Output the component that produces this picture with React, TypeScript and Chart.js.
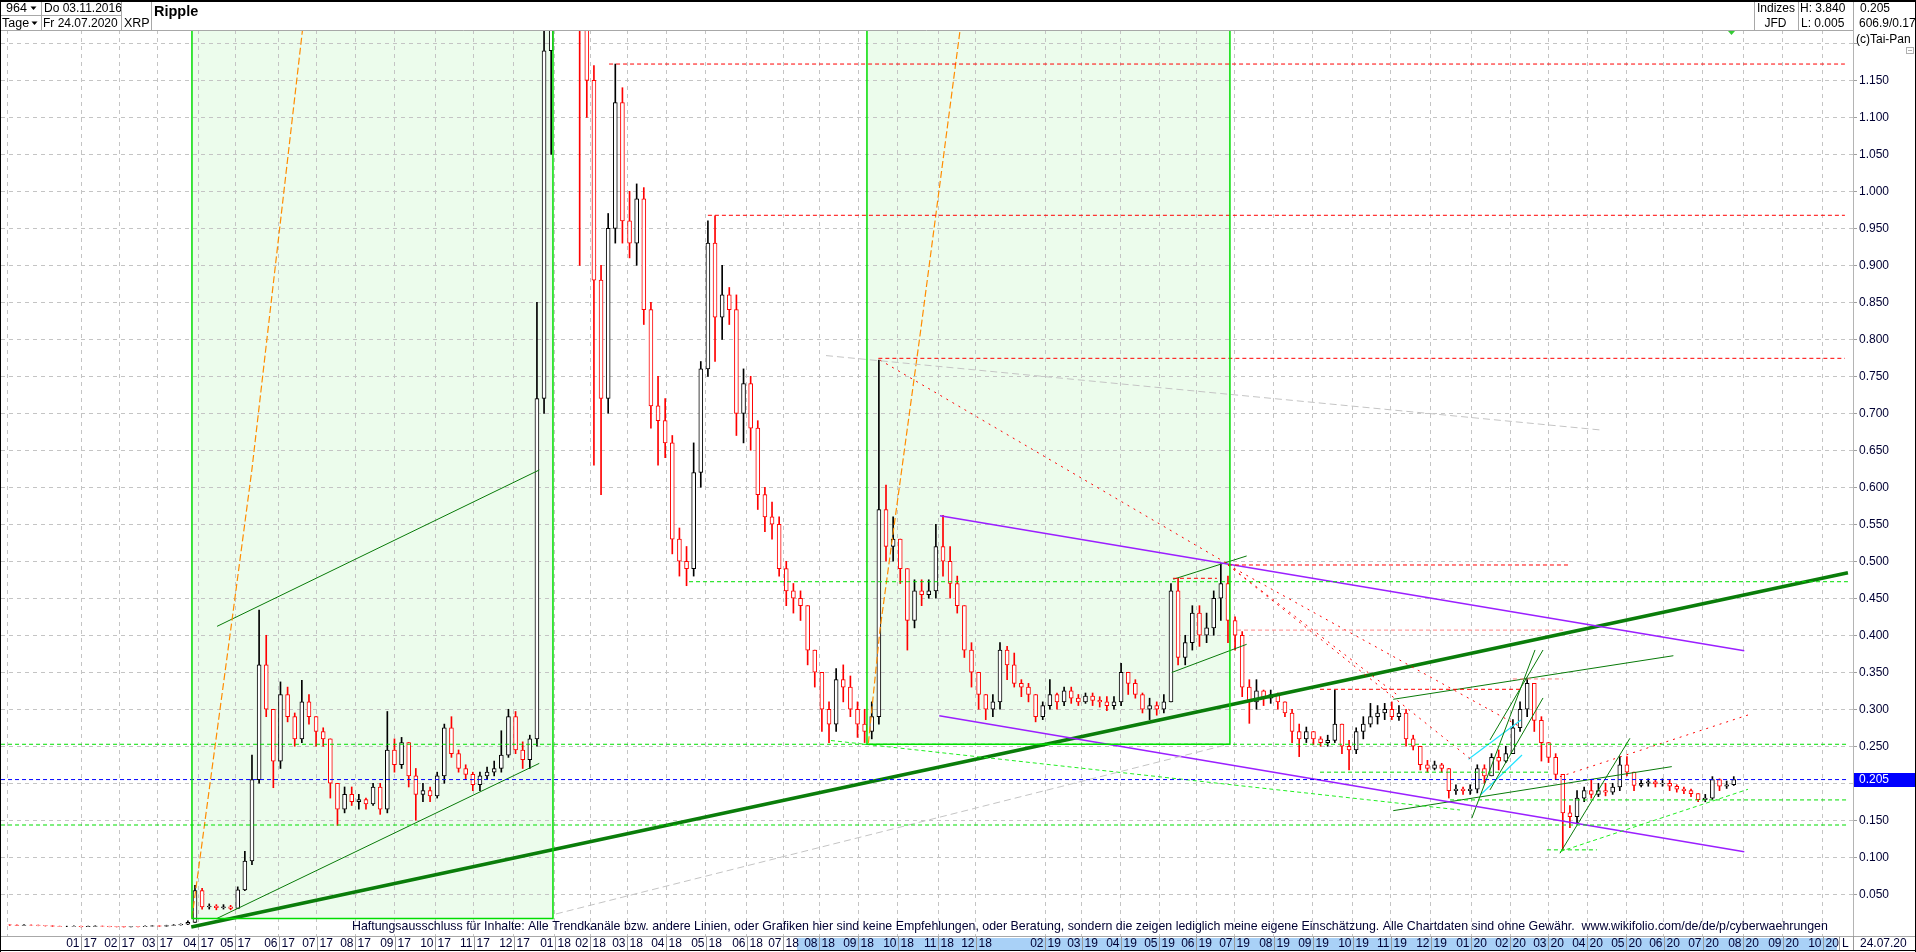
import React, { useEffect, useRef } from "react";
import { Chart, registerables } from "chart.js";

Chart.register(...registerables);

const FONT = '"Liberation Sans", Arial, Helvetica, sans-serif';
const TEXT = "#000033";

// ---------- price data (one candle = 4 trading days, open = previous close) ----------
const BAR_STEP = 4;
const FIRST_OPEN = 0.0088;

const close2017 = [0.0085,0.0080,0.0085,0.0082,0.0078,0.0075,0.0068,0.0065,0.0065,0.0068,
  0.0063,0.0066,0.0070,0.0068,0.0063,0.0062,0.0060,0.0064,0.0063,0.0068,
  0.0072,0.0070,0.0078,0.0085,0.0095,
  0.012,0.055,0.033,0.034,0.032, 0.033,0.031,0.056,0.095,0.205,
  0.360,0.300,0.230,0.320,0.290, 0.260,0.310,0.290,0.270,0.260,
  0.200,0.165,0.185,0.175,0.178, 0.172,0.195,0.165,0.245,0.225,
  0.255,0.210,0.185,0.190,0.183, 0.210,0.275,0.240,0.220,0.212,
  0.198,0.210,0.215,0.220,0.238, 0.290,0.245,0.232,0.260,0.720,
  1.190,1.500];
const high2017 = [0.0092,0.0088,0.0090,0.0088,0.0084,0.0080,0.0076,0.0070,0.0069,0.0072,
  0.0069,0.0070,0.0074,0.0072,0.0068,0.0066,0.0064,0.0067,0.0066,0.0072,
  0.0076,0.0075,0.0082,0.0090,0.0100,
  0.014,0.062,0.058,0.037,0.036, 0.036,0.035,0.060,0.108,0.238,
  0.434,0.400,0.300,0.337,0.330, 0.295,0.339,0.320,0.290,0.275,
  0.260,0.200,0.195,0.195,0.185, 0.180,0.200,0.200,0.297,0.260,
  0.262,0.255,0.220,0.200,0.195, 0.215,0.280,0.290,0.245,0.225,
  0.215,0.215,0.222,0.230,0.271, 0.300,0.297,0.256,0.265,0.850,
  1.250,2.000];
const low2017 = [0.0078,0.0076,0.0078,0.0079,0.0074,0.0070,0.0065,0.0062,0.0062,0.0064,
  0.0060,0.0062,0.0065,0.0065,0.0060,0.0058,0.0057,0.0059,0.0060,0.0062,
  0.0067,0.0066,0.0069,0.0077,0.0083,
  0.009,0.012,0.030,0.030,0.029, 0.030,0.029,0.031,0.055,0.090,
  0.200,0.290,0.194,0.220,0.283, 0.250,0.255,0.280,0.250,0.250,
  0.180,0.143,0.160,0.170,0.165, 0.165,0.170,0.158,0.160,0.215,
  0.220,0.195,0.150,0.175,0.175, 0.180,0.200,0.235,0.215,0.205,
  0.190,0.190,0.205,0.210,0.215, 0.235,0.240,0.220,0.220,0.250,
  0.700,1.050];

const close2018 = [2.20,3.20,1.60,1.45,1.15, 0.88,0.72,0.95,1.12,0.96,
  0.93,0.99,0.84,0.71,0.69, 0.66,0.53,0.50,0.49,0.62,
  0.76,0.93,0.83,0.86,0.84, 0.70,0.74,0.68,0.59,0.56,
  0.55,0.49,0.46,0.45,0.44, 0.38,0.35,0.30,0.28,0.34,
  0.33,0.30,0.28,0.27,0.29, 0.57,0.52,0.53,0.49,0.42,
  0.46,0.455,0.46,0.52,0.50, 0.47,0.44,0.38,0.35,0.32,
  0.30,0.31,0.38,0.36];
const high2018 = [2.60,3.84,3.50,1.70,1.60, 1.17,0.90,0.97,1.172,1.14,
  1.00,1.01,1.005,0.85,0.75, 0.72,0.67,0.545,0.52,0.66,
  0.77,0.96,0.967,0.90,0.87, 0.86,0.76,0.75,0.69,0.60,
  0.58,0.56,0.50,0.47,0.46, 0.44,0.38,0.35,0.31,0.355,
  0.36,0.345,0.31,0.30,0.31, 0.772,0.603,0.56,0.53,0.49,
  0.475,0.475,0.475,0.55,0.562, 0.52,0.48,0.44,0.39,0.35,
  0.32,0.32,0.39,0.385];
const low2018 = [1.45,2.20,1.50,0.90,1.10, 0.63,0.59,0.70,0.93,0.93,
  0.91,0.90,0.82,0.68,0.63, 0.64,0.51,0.48,0.467,0.48,
  0.60,0.75,0.77,0.80,0.82, 0.67,0.66,0.65,0.57,0.54,
  0.53,0.48,0.44,0.43,0.42, 0.36,0.33,0.27,0.255,0.27,
  0.31,0.29,0.262,0.255,0.26, 0.28,0.50,0.50,0.47,0.38,
  0.41,0.44,0.45,0.45,0.48, 0.45,0.43,0.37,0.33,0.30,
  0.286,0.29,0.30,0.34];

const close2019 = [0.335,0.33,0.32,0.29,0.305, 0.32,0.31,0.325,0.315,0.31,
  0.318,0.312,0.31,0.305,0.31, 0.35,0.335,0.32,0.30,0.305,
  0.30,0.31,0.46,0.37,0.39, 0.43,0.40,0.41,0.45,0.47,
  0.42,0.40,0.33,0.31,0.325, 0.315,0.32,0.31,0.295,0.27,
  0.26,0.27,0.26,0.255,0.258, 0.28,0.25,0.245,0.27,0.28,
  0.29,0.295,0.30,0.29,0.295, 0.26,0.25,0.225,0.22,0.225,
  0.22,0.19,0.192,0.19];
const high2019 = [0.376,0.34,0.335,0.32,0.31, 0.34,0.322,0.33,0.33,0.32,
  0.322,0.322,0.317,0.317,0.317, 0.362,0.35,0.34,0.322,0.315,
  0.31,0.32,0.47,0.477,0.40, 0.44,0.44,0.43,0.46,0.497,
  0.48,0.425,0.405,0.34,0.34, 0.326,0.326,0.322,0.31,0.30,
  0.28,0.276,0.27,0.263,0.265, 0.326,0.28,0.258,0.275,0.29,
  0.308,0.305,0.308,0.31,0.305, 0.30,0.265,0.25,0.231,0.23,
  0.227,0.22,0.198,0.195];
const low2019 = [0.33,0.317,0.31,0.283,0.286, 0.30,0.30,0.305,0.308,0.305,
  0.308,0.305,0.303,0.298,0.30, 0.305,0.32,0.315,0.295,0.286,
  0.292,0.295,0.31,0.36,0.36, 0.38,0.385,0.39,0.40,0.42,
  0.39,0.38,0.317,0.281,0.30, 0.305,0.308,0.30,0.29,0.255,
  0.236,0.255,0.252,0.25,0.25, 0.255,0.24,0.218,0.24,0.26,
  0.276,0.28,0.286,0.286,0.285, 0.25,0.245,0.218,0.215,0.218,
  0.215,0.18,0.185,0.185];

const close2020 = [0.192,0.22,0.21,0.235,0.23, 0.24,0.275,0.30,0.335,0.285,
  0.255,0.235,0.212,0.16,0.155, 0.18,0.19,0.185,0.19,0.188,
  0.195,0.225,0.215,0.197,0.20, 0.202,0.199,0.20,0.196,0.192,
  0.19,0.186,0.178,0.18,0.205, 0.196,0.198,0.205];
const high2020 = [0.198,0.225,0.225,0.24,0.245, 0.25,0.286,0.31,0.342,0.335,
  0.29,0.255,0.24,0.212,0.17, 0.19,0.195,0.205,0.20,0.20,
  0.20,0.236,0.236,0.215,0.205, 0.206,0.205,0.206,0.205,0.198,
  0.195,0.192,0.186,0.185,0.209, 0.206,0.203,0.209];
const low2020 = [0.185,0.187,0.20,0.21,0.218, 0.228,0.24,0.27,0.29,0.27,
  0.23,0.228,0.205,0.11,0.14, 0.145,0.175,0.18,0.182,0.183,
  0.185,0.19,0.21,0.19,0.195, 0.196,0.195,0.196,0.19,0.188,
  0.186,0.182,0.175,0.175,0.178, 0.19,0.193,0.197];

// ---------- axes ----------
const X_MIN = -2.92;
const X_MAX = 1036.95;
const Y_MIN = -0.0064;
const Y_MAX = 1.218;

const gridStart = 0.6;
const monthTicks = [42.0,63.6,84.9,107.7,128.7,152.9,174.5,196.1,218.3,240.8,262.4,285.1,
  307.9,327.8,348.8,370.7,392.9,415.9,436.2,456.4,478.3,500.7,523.2,544.5,
  583.3,604.0,625.9,647.3,668.1,689.4,711.8,733.7,756.2,777.5,800.0,
  822.5,844.4,865.7,887.6,909.5,930.8,952.7,975.2,997.6,1020.1];
const monthLabels = ["01 17","02 17","03 17","04 17","05 17","06 17","07 17","08 17","09 17","10 17","11 17","12 17",
  "01 18","02 18","03 18","04 18","05 18","06 18","07 18","08 18","09 18","10 18","11 18","12 18",
  "02 19","03 19","04 19","05 19","06 19","07 19","08 19","09 19","10 19","11 19","12 19",
  "01 20","02 20","03 20","04 20","05 20","06 20","07 20","08 20","09 20","10 20"];
const yGridValues = [0.05,0.1,0.15,0.2,0.25,0.3,0.35,0.4,0.45,0.5,0.55,0.6,0.65,0.7,0.75,0.8,0.85,0.9,0.95,1.0,1.05,1.1,1.15,1.2];
const yLabelMax = 1.15;
const LAST_PRICE = 0.205;
const HIGHLIGHT_FROM = 444.0;
const HIGHLIGHT_TO = 1028.0;

// ---------- drawings ----------
const greenBoxes = [[104.3, 307.0, 0.0172], [483.3, 687.1, 0.2527]];
const orangeRay1 = [[104.3,0.018],[126.8,0.4207],[138.0,0.6247],[168.3,1.2585]];
const orangeRay2 = [[484.1,0.2541],[490.6,0.4072],[502.8,0.6234],[513.5,0.8126],[537.8,1.2585]];
const mainSupport = [[103.9,0.0058],[1034.1,0.4846]];
const violetRays = [[[524.3,0.5616],[975.9,0.3792]], [[523.9,0.2913],[975.9,0.1076]]];
const thinGreenRays = [
  [[118.4,0.0174],[299.3,0.2269]],
  [[118.4,0.4121],[299.3,0.6234]],
  [[655.3,0.4757],[696.5,0.5072]],
  [[654.4,0.3497],[696.5,0.3878]],
  [[778.8,0.3135],[936.1,0.3724]],
  [[778.8,0.1630],[935.2,0.2225]],
  [[822.9,0.1527],[858.4,0.3802]],
  [[833.1,0.2585],[862.9,0.3801]],
  [[833.1,0.1910],[862.9,0.3153]],
  [[872.4,0.1054],[911.7,0.2608]],
];
const cyanRays = [[[821.0,0.2324],[850.5,0.2856]], [[827.7,0.1842],[851.1,0.2382]]];
// [level, from, to]
const redLevels = [[1.172,338.5,1032.4],[0.9676,394.0,1032.4],[0.7743,489.7,1032.4],[0.495,686.0,878.0],[0.477,655.1,679.8],[0.327,737.7,851.1]];
const pinkLevels = [[0.407,691.1,875.2],[0.341,846.0,874.1]];
const greenLevels = [[0.4724,383.4,1034.1],[0.2527,-2.9,1034.1],[0.1436,-2.9,1034.1],[0.1775,810.7,1034.1],[0.215,737.7,866.8],[0.110,865.1,893.2]];
const blueLevels = [[0.205,-2.9,1034.1]];
const redDotRays = [
  [[490.6,0.7720],[685.3,0.4973]],
  [[686.0,0.4950],[822.9,0.2315]],
  [[686.0,0.4950],[850.0,0.2765]],
  [[686.0,0.4950],[782.6,0.3166]],
  [[872.4,0.2089],[978.0,0.2923]],
];
const grayRays = [[[460.3,0.7780],[895.5,0.6774]], [[308.7,0.0234],[684.9,0.2518]]];
const greenDashRays = [[[463.1,0.2578],[816.3,0.1639]], [[872.4,0.1076],[978.0,0.1919]]];

const DISCLAIMER = "Haftungsausschluss für Inhalte: Alle Trendkanäle bzw. andere Linien, oder Grafiken hier sind keine Empfehlungen, oder Beratung, sondern die zeigen lediglich meine eigene Einschätzung. Alle Chartdaten sind ohne Gewähr.  www.wikifolio.com/de/de/p/cyberwaehrungen";
const DISCLAIMER_LEFT = 352;
const DISCLAIMER_WIDTH = 1477;

// ---------- helpers ----------
function lineSet(pts: number[][], color: string, width: number, dash: number[], order = 1): any {
  return {
    type: "line",
    data: pts.map(([x, y]) => ({ x, y })),
    borderColor: color,
    borderWidth: width,
    borderDash: dash,
    pointRadius: 0,
    pointHoverRadius: 0,
    fill: false,
    tension: 0,
    order,
  };
}
function levelSets(levels: number[][], color: string, width: number, dash: number[]) {
  return levels.map(([v, a, b]) => lineSet([[a, v], [b, v]], color, width, dash));
}

const chromePlugin = {
  id: "chrome",
  afterDraw(chart: any) {
    const ctx = chart.ctx;
    const xs = chart.scales.x;
    const ys = chart.scales.y;
    const W = chart.width;
    ctx.save();

    // header
    ctx.fillStyle = "#ffffff";
    ctx.fillRect(0, 0, W, 30);
    ctx.strokeStyle = "#a8a8a8";
    ctx.lineWidth = 1;
    const vline = (x: number, y1: number, y2: number) => { ctx.beginPath(); ctx.moveTo(x, y1); ctx.lineTo(x, y2); ctx.stroke(); };
    const hline = (y: number, x1: number, x2: number) => { ctx.beginPath(); ctx.moveTo(x1, y); ctx.lineTo(x2, y); ctx.stroke(); };
    vline(41.5, 0, 30); vline(121.5, 0, 30); vline(151.5, 0, 30);
    hline(15.5, 0, 121.5);
    vline(1754.5, 0, 30); vline(1798.5, 0, 30); vline(1853.5, 0, 30);
    hline(30.5, 0, 1853);

    ctx.fillStyle = "#000000";
    ctx.textBaseline = "middle";
    ctx.textAlign = "left";
    ctx.font = `12.5px ${FONT}`;
    ctx.fillText("964", 6, 8.5);
    ctx.fillText("Tage", 2, 23.5);
    const tri = (x: number, y: number) => { ctx.beginPath(); ctx.moveTo(x, y); ctx.lineTo(x + 6, y); ctx.lineTo(x + 3, y + 3.5); ctx.closePath(); ctx.fill(); };
    tri(30.5, 6.5); tri(31.5, 21.5);
    ctx.save();
    ctx.beginPath(); ctx.rect(42, 0, 79, 30); ctx.clip();
    ctx.font = `12px ${FONT}`;
    ctx.fillText("Do 03.11.2016", 44, 8.5);
    ctx.fillText("Fr 24.07.2020", 43, 23.5);
    ctx.restore();
    ctx.font = `12.5px ${FONT}`;
    ctx.fillText("XRP", 124, 23.5);
    ctx.font = `bold 14.5px ${FONT}`;
    ctx.fillText("Ripple", 154, 12);
    ctx.font = `12px ${FONT}`;
    ctx.fillText("Indizes", 1757, 8.5);
    ctx.textAlign = "center";
    ctx.fillText("JFD", 1775.5, 23.5);
    ctx.textAlign = "left";
    ctx.fillText("H: 3.840", 1800, 8.5);
    ctx.fillText("L: 0.005", 1801, 23.5);
    ctx.save();
    ctx.beginPath(); ctx.rect(1854, 0, 62, 30); ctx.clip();
    ctx.fillText("0.205", 1860, 8.5);
    ctx.fillText("606.9/0.17", 1859, 23.5);
    ctx.restore();
    ctx.font = `12px ${FONT}`;
    ctx.fillText("(c)Tai-Pan", 1856, 40);
    ctx.strokeStyle = "#b0b0b0";
    ctx.strokeRect(1906.5, 47.5, 7, 6);
    hline(50.5, 1908, 1912);
    ctx.fillStyle = "#33cc33";
    ctx.beginPath(); ctx.moveTo(1728, 31); ctx.lineTo(1735, 31); ctx.lineTo(1731.5, 35); ctx.closePath(); ctx.fill();

    // last price box
    const py = ys.getPixelForValue(LAST_PRICE);
    ctx.fillStyle = "#0000ff";
    ctx.fillRect(1854, Math.round(py) - 7, 62, 14);
    ctx.fillStyle = "#ffffff";
    ctx.font = `12px ${FONT}`;
    ctx.fillText("0.205", 1859, py + 0.5);

    // disclaimer (fitted to the width it has in the original)
    ctx.font = `12px ${FONT}`;
    const w = ctx.measureText(DISCLAIMER).width;
    const size = Math.max(10, Math.min(14, 12 * DISCLAIMER_WIDTH / w));
    ctx.font = `${size.toFixed(2)}px ${FONT}`;
    ctx.fillStyle = TEXT;
    ctx.fillText(DISCLAIMER, DISCLAIMER_LEFT, 927);

    // bottom label strip
    ctx.fillStyle = "#ffffff";
    ctx.fillRect(0, 936, W, 16);
    const hx1 = xs.getPixelForValue(HIGHLIGHT_FROM);
    const hx2 = xs.getPixelForValue(HIGHLIGHT_TO);
    ctx.fillStyle = "#a9d1f7";
    ctx.fillRect(hx1, 938, hx2 - hx1, 12);
    ctx.strokeStyle = "#a8a8a8";
    hline(936.5, 0, W);
    ctx.font = `12px ${FONT}`;
    ctx.fillStyle = TEXT;
    monthTicks.forEach((v, i) => {
      const px = Math.round(xs.getPixelForValue(v)) + 0.5;
      const [mm, yy] = monthLabels[i].split(" ");
      ctx.strokeStyle = "#9a9a9a";
      vline(px, 937, 950);
      ctx.textAlign = "right";
      ctx.fillText(mm, px - 2, 944);
      ctx.textAlign = "left";
      ctx.fillText(yy, px + 2, 944);
    });
    ctx.strokeStyle = "#9a9a9a";
    vline(1839.5, 937, 950);
    vline(1853.5, 936, 951);
    ctx.textAlign = "left";
    ctx.fillText("L", 1842, 944);
    ctx.fillText("24.07.20", 1860, 944);

    // frame
    ctx.strokeStyle = "#000000";
    ctx.lineWidth = 2;
    hline(1, 0, W);
    ctx.lineWidth = 1;
    vline(0.5, 0, 952);
    vline(W - 0.5, 0, 952);
    hline(950.5, 0, W);
    ctx.restore();
  },
};

export default function App() {
  const ref = useRef<HTMLCanvasElement | null>(null);

  useEffect(() => {
    const canvas = ref.current;
    if (!canvas) return;

    const closes = [...close2017, ...close2018, ...close2019, ...close2020];
    const highs = [...high2017, ...high2018, ...high2019, ...high2020];
    const lows = [...low2017, ...low2018, ...low2019, ...low2020];
    const candles = closes.map((c, k) => ({
      x: k * BAR_STEP + BAR_STEP / 2,
      o: k === 0 ? FIRST_OPEN : closes[k - 1],
      c,
      h: highs[k],
      l: lows[k],
    }));
    const colors = candles.map((d) => (d.c < d.o ? "#ff0000" : "#000000"));

    const datasets: any[] = [];
    greenBoxes.forEach(([a, b, bottom]) => {
      datasets.push({
        type: "line",
        data: [{ x: a, y: Y_MAX }, { x: b, y: Y_MAX }],
        borderWidth: 0,
        borderColor: "rgba(0,0,0,0)",
        backgroundColor: "rgba(0,215,0,0.075)",
        fill: { value: bottom },
        pointRadius: 0,
        order: 10,
      });
    });
    datasets.push({
      type: "bar",
      data: candles.map((d) => ({ x: d.x, y: [d.l, d.h] })),
      backgroundColor: colors,
      borderWidth: 0,
      barThickness: 1,
      grouped: false,
      order: 4,
    });
    datasets.push({
      type: "bar",
      data: candles.map((d) => ({ x: d.x, y: [d.o, d.c] })),
      backgroundColor: "#ffffff",
      borderColor: colors,
      borderWidth: 1,
      borderSkipped: false,
      barThickness: 4,
      grouped: false,
      order: 3,
    });
    greenBoxes.forEach(([a, b, bottom]) => {
      datasets.push(lineSet([[a, Y_MAX + 0.05], [a, bottom], [b, bottom], [b, Y_MAX + 0.05]], "#00dd00", 1.5, []));
    });
    datasets.push(...levelSets(greenLevels, "#00dd00", 1, [4, 3]));
    datasets.push(...levelSets(blueLevels, "#0000ff", 1, [4, 3]));
    datasets.push(...levelSets(redLevels, "#ff0000", 1, [4, 3]));
    datasets.push(...levelSets(pinkLevels, "#ff8080", 1, [4, 3]));
    grayRays.forEach((p) => datasets.push(lineSet(p, "#c4c4c4", 1, [7, 4])));
    greenDashRays.forEach((p) => datasets.push(lineSet(p, "#22ee22", 1, [4, 3])));
    redDotRays.forEach((p) => datasets.push(lineSet(p, "#ff0000", 1, [2, 5])));
    datasets.push(lineSet(orangeRay1, "#ff8c00", 1.2, [7, 3]));
    datasets.push(lineSet(orangeRay2, "#ff8c00", 1.2, [7, 3]));
    violetRays.forEach((p) => datasets.push(lineSet(p, "#9b1fff", 1.5, [])));
    thinGreenRays.forEach((p) => datasets.push(lineSet(p, "#087a08", 1, [])));
    cyanRays.forEach((p) => datasets.push(lineSet(p, "#22e4ff", 1.2, [])));
    datasets.push(lineSet(mainSupport, "#0a7d0a", 3.5, []));

    const chart = new Chart(canvas, {
      type: "line",
      data: { datasets },
      options: {
        responsive: false,
        animation: false,
        devicePixelRatio: 1,
        events: [],
        layout: { padding: { top: 30, left: 1, right: 0, bottom: 0 } },
        plugins: {
          legend: { display: false },
          tooltip: { enabled: false },
          filler: { drawTime: "beforeDraw" },
        },
        scales: {
          x: {
            type: "linear",
            min: X_MIN,
            max: X_MAX,
            offset: false,
            afterBuildTicks: (s: any) => {
              s.ticks = [gridStart, ...monthTicks].map((v) => ({ value: v }));
            },
            ticks: { display: false },
            grid: { color: "#c4c4c4", drawTicks: false, offset: false, lineWidth: 1 },
            border: { display: false, dash: [4, 4] },
            afterFit: (s: any) => { s.height = 16; },
          },
          y: {
            type: "linear",
            position: "right",
            min: Y_MIN,
            max: Y_MAX,
            afterBuildTicks: (s: any) => {
              s.ticks = yGridValues.map((v) => ({ value: v }));
            },
            ticks: {
              autoSkip: false,
              padding: 2,
              color: TEXT,
              font: { family: FONT, size: 12 },
              callback: (v: any) => (Number(v) > yLabelMax + 0.001 ? "" : Number(v).toFixed(3)),
            },
            grid: { color: "#c4c4c4", tickLength: 4, tickColor: "#a0a0a0", lineWidth: 1 },
            border: { display: true, color: "#b4b4b4", dash: [4, 4] },
            afterFit: (s: any) => { s.width = 63; },
          },
        },
      },
      plugins: [chromePlugin],
    } as any);

    return () => chart.destroy();
  }, []);

  return (
    <div style={{ position: "fixed", left: 0, top: 0, width: 1916, height: 952, background: "#ffffff" }}>
      <canvas ref={ref} width={1916} height={952} style={{ display: "block", width: 1916, height: 952 }} />
    </div>
  );
}
